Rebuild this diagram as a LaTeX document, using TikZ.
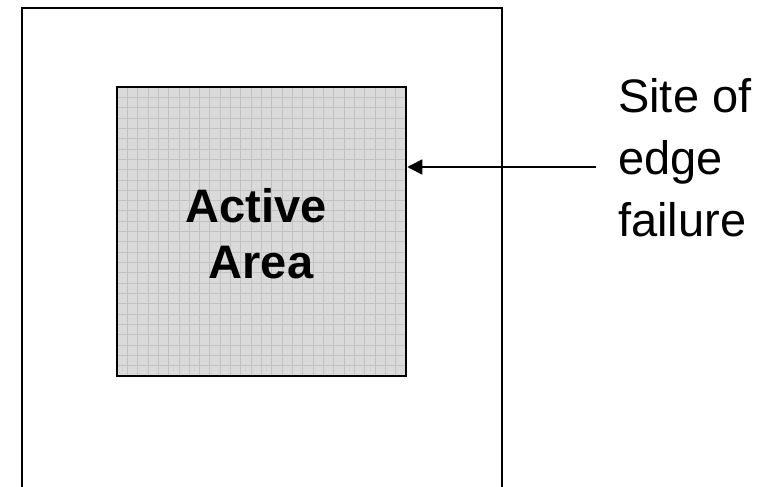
\documentclass[tikz,border=0pt]{standalone}
\usepackage{fontspec}
\setmainfont{Liberation Sans}
\usetikzlibrary{arrows.meta}
\definecolor{areafill}{RGB}{218,218,218}
\definecolor{gridc}{RGB}{194,194,194}
\tikzset{
  outerline/.style={line width=2pt, line join=miter},
  activebox/.style={draw, line width=2.5pt, fill=areafill, minimum width=289pt, minimum height=289pt, inner sep=0pt,
    path picture={
      \foreach \i in {1,...,28}{
        \draw[gridc, line width=0.8pt] ([xshift=\i*10.32pt]path picture bounding box.south west) -- ([xshift=\i*10.32pt]path picture bounding box.north west);
        \draw[gridc, line width=0.8pt] ([yshift=\i*10.32pt]path picture bounding box.south west) -- ([yshift=\i*10.32pt]path picture bounding box.south east);
      }
    }},
  boldtext/.style={font=\fontsize{47}{56}\selectfont\bfseries, inner sep=0pt, anchor=base},
  plaintext/.style={font=\fontsize{47}{56}\selectfont, inner sep=0pt, anchor=base west},
  pointer/.style={line width=1.6pt, -{Triangle[length=15pt,width=15pt]}}
}
\begin{document}
\begin{tikzpicture}[x=1pt,y=-1pt]
  \useasboundingbox (0,0) rectangle (774,487);
  % outer substrate outline (open at the bottom)
  \draw[outerline] (22,490) -- (22,8) -- (502,8) -- (502,490);
  % active area
  \node[activebox] (active) at (261.5,231.5) {};
  \node[boldtext] (active1) at (256,222) {Active};
  \node[boldtext] (active2) at (261,278) {Area};
  % label
  \node[plaintext] (site1) at (618,112) {Site of};
  \node[plaintext] (site2) at (618,174) {edge};
  \node[plaintext] (site3) at (618,236) {failure};
  \coordinate (tail) at (596,167);
  \draw[pointer] (tail) -- (tail -| active.east);
\end{tikzpicture}
\end{document}
